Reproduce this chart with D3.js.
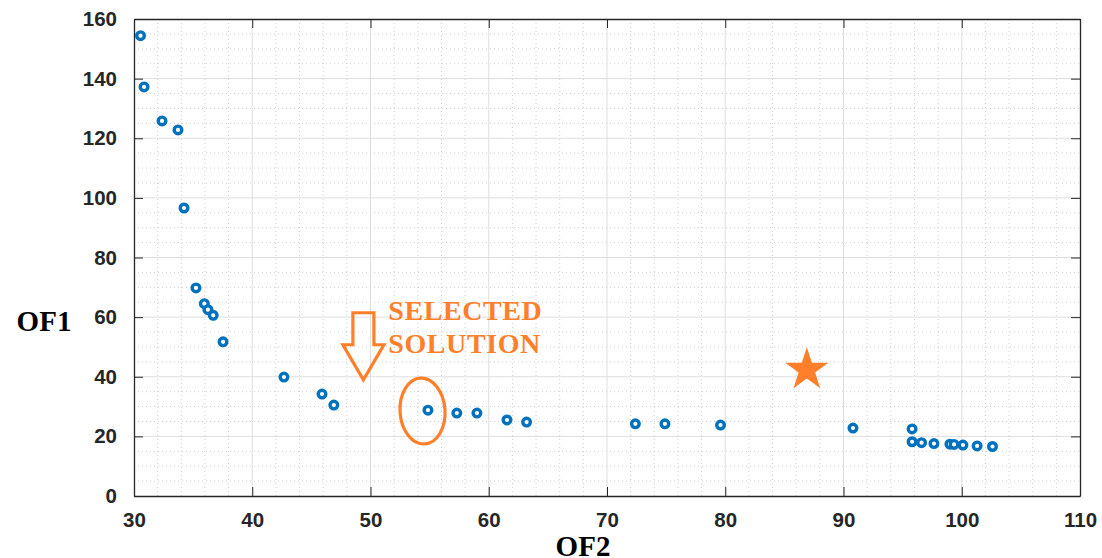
<!DOCTYPE html>
<html>
<head>
<meta charset="utf-8">
<script src="https://cdn.jsdelivr.net/npm/d3@7"></script>
<style>
  body { margin: 0; background: #fff; }
  svg { display: block; }
  .tick text { font-family: "Liberation Sans", Arial, sans-serif; font-weight: bold; font-size: 20.5px; fill: #262626; }
</style>
</head>
<body>
<svg id="chart"></svg>
<script>
// OF2 (x) and OF1 (y) values of the Pareto front
const of2 = [30.55, 30.85, 32.37, 33.72, 34.23, 35.24, 35.95, 36.25, 36.7, 37.53,
             42.68, 45.9, 46.9, 54.86, 57.3, 59.0, 61.54, 63.2, 72.4, 74.9,
             79.6, 90.8, 95.8, 95.8, 96.6, 97.65, 99.0, 99.35, 100.1, 101.3, 102.6];
const of1 = [154.4, 137.2, 125.8, 122.8, 96.6, 69.8, 64.5, 62.5, 60.6, 51.7,
             39.9, 34.2, 30.5, 28.8, 27.8, 27.8, 25.5, 24.8, 24.2, 24.2,
             23.8, 22.8, 22.5, 18.2, 17.9, 17.6, 17.4, 17.3, 17.1, 16.8, 16.6];
const star = { of2: 86.9, of1: 42.3 };
const selected = { of2: 54.4, of1: 28.5 };
const xTicks = [30, 40, 50, 60, 70, 80, 90, 100, 110];
const yTicks = [0, 20, 40, 60, 80, 100, 120, 140, 160];

const W = 1102, H = 558;
const margin = { top: 19, right: 22, bottom: 62, left: 134 };
const width = W - margin.left - margin.right;
const height = H - margin.top - margin.bottom;
const orange = "#FF7F2A";
const blue = "#0072BD";

const svg = d3.select("#chart").attr("width", W).attr("height", H);
const g = svg.append("g").attr("transform", `translate(${margin.left},${margin.top})`);

const x = d3.scaleLinear().domain([30, 110]).range([0, width]);
const y = d3.scaleLinear().domain([0, 160]).range([height, 0]);

// minor grid (dotted)
g.append("g").selectAll("line")
  .data(d3.range(30, 110, 2).filter(v => v % 10 !== 0))
  .join("line")
  .attr("x1", d => x(d)).attr("x2", d => x(d))
  .attr("y1", 0).attr("y2", height)
  .attr("stroke", "#cfcfcf").attr("stroke-dasharray", "1,3");
g.append("g").selectAll("line")
  .data(d3.range(0, 160, 5).filter(v => v % 20 !== 0))
  .join("line")
  .attr("y1", d => y(d)).attr("y2", d => y(d))
  .attr("x1", 0).attr("x2", width)
  .attr("stroke", "#cfcfcf").attr("stroke-dasharray", "1,3");

// major grid
g.append("g").selectAll("line")
  .data(xTicks.slice(1, -1))
  .join("line")
  .attr("x1", d => x(d)).attr("x2", d => x(d))
  .attr("y1", 0).attr("y2", height)
  .attr("stroke", "#dedede");
g.append("g").selectAll("line")
  .data(yTicks.slice(1, -1))
  .join("line")
  .attr("y1", d => y(d)).attr("y2", d => y(d))
  .attr("x1", 0).attr("x2", width)
  .attr("stroke", "#dedede");

// axes (inward ticks on all four sides)
const axisStyle = sel => {
  sel.select(".domain").attr("stroke", "#262626").attr("stroke-width", 1.3);
  sel.selectAll(".tick line").attr("stroke", "#262626");
};
g.append("g").attr("transform", `translate(0,${height})`)
  .call(d3.axisBottom(x).tickValues(xTicks).tickSizeInner(-9).tickSizeOuter(0).tickPadding(16))
  .call(axisStyle);
g.append("g")
  .call(d3.axisLeft(y).tickValues(yTicks).tickSizeInner(-9).tickSizeOuter(0).tickPadding(17))
  .call(axisStyle);
g.append("g")
  .call(d3.axisTop(x).tickValues(xTicks).tickSizeInner(-9).tickSizeOuter(0).tickFormat(""))
  .call(axisStyle);
g.append("g").attr("transform", `translate(${width},0)`)
  .call(d3.axisRight(y).tickValues(yTicks).tickSizeInner(-9).tickSizeOuter(0).tickFormat(""))
  .call(axisStyle);
g.selectAll(".tick text").attr("font-size", null).attr("font-family", null);

// points
g.append("g").selectAll("circle")
  .data(of2.map((v, i) => [v, of1[i]]))
  .join("circle")
  .attr("cx", d => x(d[0])).attr("cy", d => y(d[1]))
  .attr("r", 3.8)
  .attr("fill", "#fff")
  .attr("stroke", blue).attr("stroke-width", 3.4);

// star
const starSym = d3.symbol().type(d3.symbolStar).size(580);
g.append("path")
  .attr("d", starSym())
  .attr("transform", `translate(${x(star.of2)},${y(star.of1)})`)
  .attr("fill", orange);

// ellipse around selected solution
g.append("ellipse")
  .attr("cx", x(selected.of2)).attr("cy", y(selected.of1))
  .attr("rx", 22.5).attr("ry", 33)
  .attr("transform", `rotate(-4,${x(selected.of2)},${y(selected.of1)})`)
  .attr("fill", "none").attr("stroke", orange).attr("stroke-width", 3.2);

// down arrow
const ax = x(49.4), at = y(39.0);
const arrow = [[-10.5, -67], [10.5, -67], [10.5, -35], [20.5, -35], [0, 0], [-20.5, -35], [-10.5, -35]];
g.append("path")
  .attr("d", d3.line()(arrow.map(p => [ax + p[0], at + p[1]])) + "Z")
  .attr("fill", "none").attr("stroke", orange).attr("stroke-width", 3.2).attr("stroke-linejoin", "miter");

const label = g.append("text")
  .attr("x", x(51.5)).attr("y", y(59))
  .attr("font-family", "'Liberation Serif', 'Times New Roman', serif")
  .attr("font-weight", "bold").attr("font-size", 28).attr("letter-spacing", 0.6).attr("fill", orange);
label.append("tspan").text("SELECTED");
label.append("tspan").attr("x", x(51.5)).attr("dy", 32.5).text("SOLUTION");

// axis titles
svg.append("text")
  .attr("x", 44).attr("y", 331)
  .attr("text-anchor", "middle")
  .attr("font-family", "'Liberation Serif', 'Times New Roman', serif")
  .attr("font-weight", "bold").attr("font-size", 29).attr("fill", "#000")
  .text("OF1");
svg.append("text")
  .attr("x", 583).attr("y", 556)
  .attr("text-anchor", "middle")
  .attr("font-family", "'Liberation Serif', 'Times New Roman', serif")
  .attr("font-weight", "bold").attr("font-size", 29).attr("fill", "#000")
  .text("OF2");
</script>
</body>
</html>
